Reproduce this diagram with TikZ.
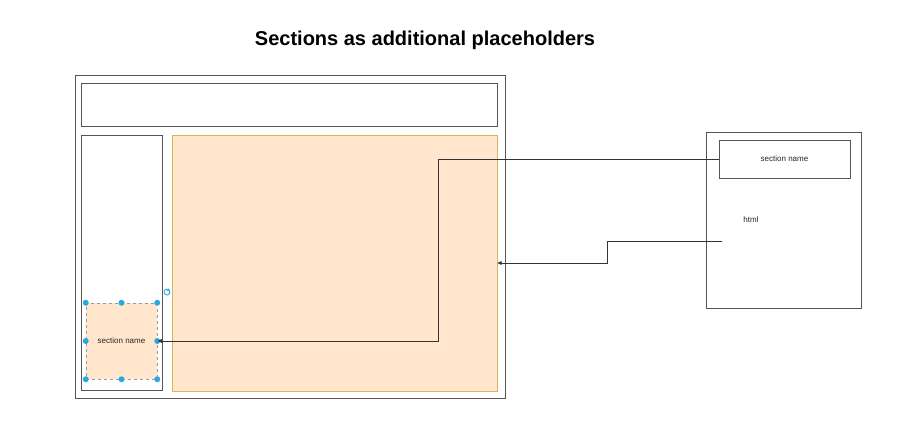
\documentclass[tikz,border=0pt]{standalone}
\usepackage{fontspec}
\setmainfont{Liberation Sans}
\usetikzlibrary{arrows.meta}
\definecolor{frame}{HTML}{555555}
\definecolor{peach}{HTML}{FFE6CC}
\definecolor{peachline}{HTML}{D6B656}
\definecolor{handle}{HTML}{29A8E0}
\tikzset{
  box/.style={draw=frame, line width=0.9pt, fill=white, inner sep=0pt},
  content/.style={draw=peachline, line width=0.9pt, fill=peach, inner sep=0pt},
  label/.style={font=\fontsize{8}{9}\selectfont, text=black!85},
  wire/.style={draw=black!80, line width=0.7pt},
  tip/.style={-{Latex[length=4.5pt,width=4pt]}},
  grip/.style={circle, fill=handle, inner sep=0pt, minimum size=6pt},
}
\begin{document}
\begin{tikzpicture}[x=1pt,y=-1pt]
  \useasboundingbox[fill=white] (0,0) rectangle (910,428);

  % title
  \node[font=\bfseries\fontsize{20}{24}\selectfont] (title) at (425,40) {Sections as additional placeholders};

  % page layout
  \draw[box] (75,75) rectangle (505,398);
  \draw[box] (81,83) rectangle (497,126);
  \draw[box] (81,135) rectangle (162,390);
  \draw[content] (172,135) rectangle (497,391);
  \coordinate (contentE) at (497,263);

  % section placeholder in the sidebar (selected)
  \node[content, draw=frame!60, dashed, line width=0.5pt, minimum width=71pt, minimum height=76pt, label] (slot) at (121.5,341) {section name};
  \foreach \p in {north west,north,north east,west,east,south west,south,south east}
    \node[grip] at (slot.\p) {};
  \draw[handle, line width=0.9pt] (167,292) ++(60:3pt) arc (60:390:3pt);
  \fill[handle] (167,292) ++(60:3pt) ++(-1.8pt,-1.4pt) -- ++(3pt,-0.3pt) -- ++(-0.7pt,2.8pt) -- cycle;

  % section definition
  \draw[box] (706,132) rectangle (861,308);
  \node[box, minimum width=131pt, minimum height=38pt, label] (secname) at (784.5,159) {section name};
  \node[label] (html) at (751,220) {html};
  \coordinate (htmlW) at (722,241);

  % connectors
  \draw[wire, tip] (secname.west) -- (438,159) -- (438,341) -- (slot.east);
  \draw[wire, tip] (htmlW) -- (607,241) -- (607,263) -- (contentE);
\end{tikzpicture}
\end{document}
